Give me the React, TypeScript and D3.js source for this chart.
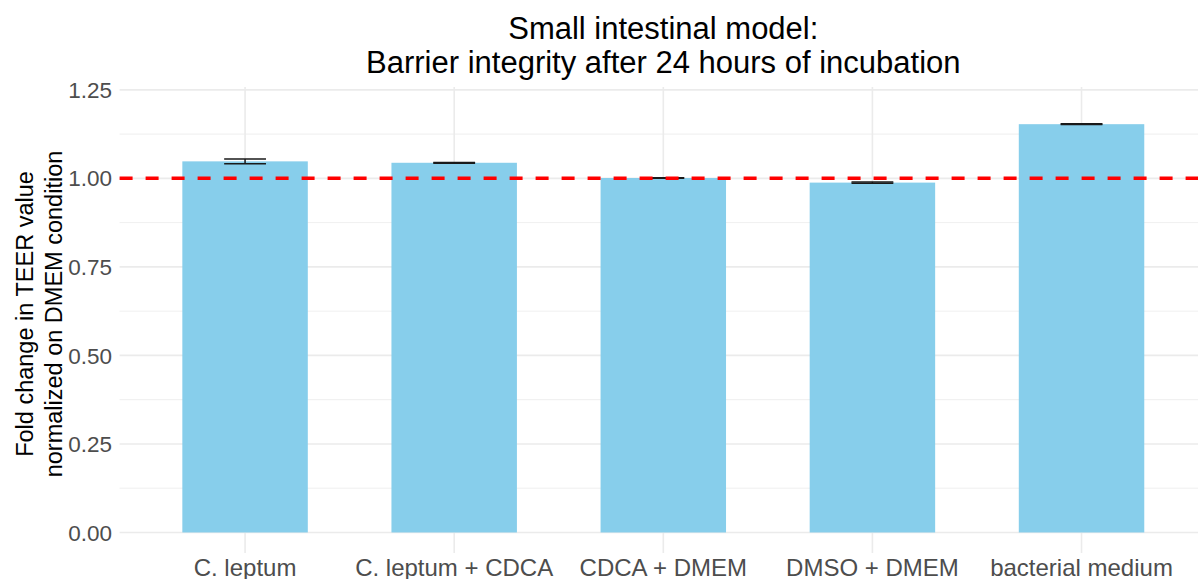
import React, { useRef, useEffect } from 'react';
import * as d3 from 'd3';

const conditions = ['C. leptum', 'C. leptum + CDCA', 'CDCA + DMEM', 'DMSO + DMEM', 'bacterial medium'];
const foldChange = [1.048, 1.044, 1.001, 0.988, 1.153];
const errors = [0.007, 0.001, 0.001, 0.002, 0.001];
const yTicks = [0, 0.25, 0.5, 0.75, 1.0, 1.25];
const yMinorTicks = [0.125, 0.375, 0.625, 0.875, 1.125];

const W = 1198;
const H = 579;

const App = () => {
  const svgRef = useRef<SVGSVGElement | null>(null);

  useEffect(() => {
    const svg = d3.select(svgRef.current);
    svg.selectAll('*').remove();

    const font = '"Liberation Sans", Arial, sans-serif';
    const panel = { left: 119.6, right: 1207, top: 87, bottom: 553 };

    const x = d3.scalePoint<string>()
      .domain(conditions)
      .range([panel.left, panel.right])
      .padding(0.6);
    const step = x.step();
    const barW = step * 0.6;

    const y = d3.scaleLinear()
      .domain([-0.058, 1.258])
      .range([panel.bottom, panel.top]);

    const g = svg.append('g');

    // minor gridlines
    g.selectAll('.minor')
      .data(yMinorTicks)
      .enter()
      .append('line')
      .attr('x1', panel.left)
      .attr('x2', W)
      .attr('y1', d => y(d))
      .attr('y2', d => y(d))
      .attr('stroke', '#EBEBEB')
      .attr('stroke-width', 0.8);

    // major gridlines
    g.selectAll('.major')
      .data(yTicks)
      .enter()
      .append('line')
      .attr('x1', panel.left)
      .attr('x2', W)
      .attr('y1', d => y(d))
      .attr('y2', d => y(d))
      .attr('stroke', '#EBEBEB')
      .attr('stroke-width', 1.6);

    g.selectAll('.vgrid')
      .data(conditions)
      .enter()
      .append('line')
      .attr('x1', d => x(d)!)
      .attr('x2', d => x(d)!)
      .attr('y1', panel.top)
      .attr('y2', panel.bottom)
      .attr('stroke', '#EBEBEB')
      .attr('stroke-width', 1.6);

    // bars
    g.selectAll('.bar')
      .data(conditions)
      .enter()
      .append('rect')
      .attr('x', d => x(d)! - barW / 2)
      .attr('width', barW)
      .attr('y', (d, i) => y(foldChange[i]))
      .attr('height', (d, i) => y(0) - y(foldChange[i]))
      .attr('fill', '#87CEEB');

    // error bars
    const errW = step * 0.2;
    const eb = g.selectAll('.err')
      .data(conditions)
      .enter()
      .append('g')
      .attr('stroke', '#1a1a1a')
      .attr('stroke-width', 1.5);
    eb.append('line')
      .attr('x1', d => x(d)!)
      .attr('x2', d => x(d)!)
      .attr('y1', (d, i) => y(foldChange[i] + errors[i]))
      .attr('y2', (d, i) => y(foldChange[i] - errors[i]));
    eb.append('line')
      .attr('x1', d => x(d)! - errW / 2)
      .attr('x2', d => x(d)! + errW / 2)
      .attr('y1', (d, i) => y(foldChange[i] + errors[i]))
      .attr('y2', (d, i) => y(foldChange[i] + errors[i]));
    eb.append('line')
      .attr('x1', d => x(d)! - errW / 2)
      .attr('x2', d => x(d)! + errW / 2)
      .attr('y1', (d, i) => y(foldChange[i] - errors[i]))
      .attr('y2', (d, i) => y(foldChange[i] - errors[i]));

    // reference line
    g.append('line')
      .attr('x1', panel.left)
      .attr('x2', W)
      .attr('y1', y(1))
      .attr('y2', y(1))
      .attr('stroke', '#FF0000')
      .attr('stroke-width', 3.5)
      .attr('stroke-dasharray', '13,13');

    // y tick labels
    g.selectAll('.ytick')
      .data(yTicks)
      .enter()
      .append('text')
      .attr('x', 112)
      .attr('y', d => y(d))
      .attr('dy', '0.36em')
      .attr('text-anchor', 'end')
      .style('font-family', font)
      .style('font-size', '22.5px')
      .attr('fill', '#4D4D4D')
      .text(d => d.toFixed(2));

    // x tick labels
    g.selectAll('.xtick')
      .data(conditions)
      .enter()
      .append('text')
      .attr('x', d => x(d)!)
      .attr('y', 576)
      .attr('text-anchor', 'middle')
      .style('font-family', font)
      .style('font-size', '24px')
      .attr('fill', '#4D4D4D')
      .text(d => d);

    // y axis title
    const yMid = 314;
    const yTitle = g.append('text')
      .attr('transform', `translate(0, ${yMid}) rotate(-90)`)
      .attr('text-anchor', 'middle')
      .style('font-family', font)
      .style('font-size', '23.5px')
      .attr('fill', '#000');
    yTitle.append('tspan').attr('x', 0).attr('y', 33).text('Fold change in TEER value');
    yTitle.append('tspan').attr('x', 0).attr('y', 62).text('normalized on DMEM condition');

    // title
    const cx = (panel.left + panel.right) / 2;
    const title = g.append('text')
      .attr('text-anchor', 'middle')
      .style('font-family', font)
      .style('font-size', '31px')
      .attr('fill', '#000');
    title.append('tspan').attr('x', cx).attr('y', 39).text('Small intestinal model:');
    title.append('tspan').attr('x', cx).attr('y', 73).text('Barrier integrity after 24 hours of incubation');

    return () => {
      svg.selectAll('*').remove();
    };
  }, []);

  return (
    <svg
      ref={svgRef}
      width={W}
      height={H}
      style={{ position: 'absolute', left: 0, top: 0, background: '#fff' }}
    ></svg>
  );
};

export default App;
